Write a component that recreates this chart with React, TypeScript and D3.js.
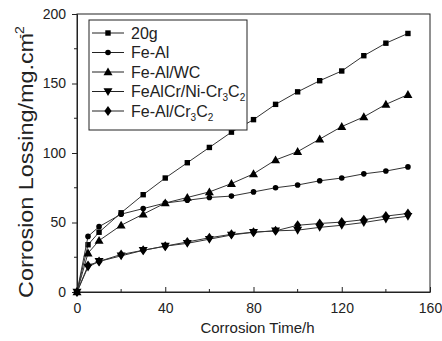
import React, { useEffect, useRef } from 'react';
import * as d3 from 'd3';

const times = [0, 5, 10, 20, 30, 40, 50, 60, 70, 80, 90, 100, 110, 120, 130, 140, 150];
const s20g = [0, 34, 43, 57, 70, 82, 93, 104, 115, 124, 135, 144, 152, 159, 170, 179, 186];
const sFeAl = [0, 40, 47, 56, 60, 64, 66, 68, 69, 72, 75, 77, 80, 82, 85, 87, 90];
const sFeAlWC = [0, 28, 37, 48, 56, 64, 68, 72, 78, 85, 95, 101, 110, 119, 126, 135, 142];
const sFeAlCr = [0, 18, 22, 26, 30, 33, 35, 38, 41, 43, 44, 44.5, 46.5, 48, 50, 52.5, 54.5];
const sCr3C2 = [0, 19, 22, 27, 30, 33, 36, 39, 41.5, 43, 44, 48, 49.3, 50.3, 52, 54.6, 56.5];

const seriesNames = ['20g', 'Fe-Al', 'Fe-Al/WC', 'FeAlCr/Ni-Cr3C2', 'Fe-Al/Cr3C2'];
const seriesValues = [s20g, sFeAl, sFeAlWC, sFeAlCr, sCr3C2];
const markers = ['square', 'circle', 'triangle', 'triangleDown', 'diamond'];

const xTicks = [0, 40, 80, 120, 160];
const yTicks = [0, 50, 100, 150, 200];

const FONT = 'Liberation Sans, Arial, sans-serif';

// draw one marker at (0,0) inside the given group
function drawMarker(g, type) {
    if (type === 'square') {
        g.append('rect').attr('x', -2.7).attr('y', -2.7).attr('width', 5.4).attr('height', 5.4).attr('fill', '#000');
    } else if (type === 'circle') {
        g.append('circle').attr('r', 2.8).attr('fill', '#000');
    } else if (type === 'triangle') {
        g.append('path').attr('d', 'M0,-4.5L4.5,3.3L-4.5,3.3Z').attr('fill', '#000');
    } else if (type === 'triangleDown') {
        g.append('path').attr('d', 'M0,4.5L4.5,-3.3L-4.5,-3.3Z').attr('fill', '#000');
    } else {
        g.append('path').attr('d', 'M0,-5L3.6,0L0,5L-3.6,0Z').attr('fill', '#000');
    }
}

const App = () => {
    const svgRef = useRef(null);

    useEffect(() => {
        const svg = d3.select(svgRef.current);
        svg.selectAll('*').remove();

        const left = 77, right = 430, top = 14, bottom = 292;

        const x = d3.scaleLinear().domain([0, 160]).range([left, right]);
        const y = d3.scaleLinear().domain([0, 200]).range([bottom, top]);

        // frame
        svg.append('rect')
            .attr('x', left).attr('y', top)
            .attr('width', right - left).attr('height', bottom - top)
            .attr('fill', 'none').attr('stroke', '#222').attr('stroke-width', 1);

        // left axis, ticks outward
        const yAxis = svg.append('g')
            .attr('transform', 'translate(' + left + ',0)')
            .call(d3.axisLeft(y).tickValues(yTicks).tickSize(5).tickPadding(6));
        yAxis.select('.domain').attr('stroke', '#222');
        yAxis.selectAll('line').attr('stroke', '#222');
        yAxis.selectAll('text').attr('font-family', FONT).attr('font-size', 14).attr('fill', '#222');
        yAxis.selectAll('.minor')
            .data([25, 75, 125, 175])
            .enter().append('line')
            .attr('x1', -3).attr('x2', 0)
            .attr('y1', function(d) { return y(d); })
            .attr('y2', function(d) { return y(d); })
            .attr('stroke', '#222');

        // bottom axis, ticks inward
        const xAxis = svg.append('g')
            .attr('transform', 'translate(0,' + bottom + ')')
            .call(d3.axisBottom(x).tickValues(xTicks).tickSizeInner(-5).tickSizeOuter(0).tickPadding(11));
        xAxis.select('.domain').attr('stroke', '#222');
        xAxis.selectAll('line').attr('stroke', '#222');
        xAxis.selectAll('text').attr('font-family', FONT).attr('font-size', 14).attr('fill', '#222');
        xAxis.selectAll('.minor')
            .data([20, 60, 100, 140])
            .enter().append('line')
            .attr('y1', -3).attr('y2', 0)
            .attr('x1', function(d) { return x(d); })
            .attr('x2', function(d) { return x(d); })
            .attr('stroke', '#222');

        // series
        const line = d3.line()
            .x(function(d) { return x(d[0]); })
            .y(function(d) { return y(d[1]); });

        seriesValues.forEach(function(vals, i) {
            const pts = times.map(function(t, j) { return [t, vals[j]]; });
            svg.append('path')
                .datum(pts)
                .attr('d', line)
                .attr('fill', 'none')
                .attr('stroke', '#333')
                .attr('stroke-width', 1);
            pts.forEach(function(p) {
                const mg = svg.append('g').attr('transform', 'translate(' + x(p[0]) + ',' + y(p[1]) + ')');
                drawMarker(mg, markers[i]);
            });
        });

        // legend
        const legend = svg.append('g');
        legend.append('rect')
            .attr('x', 89).attr('y', 20).attr('width', 158).attr('height', 110)
            .attr('fill', '#fff').attr('stroke', '#222').attr('stroke-width', 1);

        seriesNames.forEach(function(name, i) {
            const ly = 33 + i * 19.5;
            const row = legend.append('g').attr('transform', 'translate(0,' + ly + ')');
            row.append('line').attr('x1', 92).attr('x2', 124).attr('y1', 0).attr('y2', 0)
                .attr('stroke', '#222').attr('stroke-width', 1);
            const mg = row.append('g').attr('transform', 'translate(108,0)');
            drawMarker(mg, markers[i]);
            const txt = row.append('text')
                .attr('x', 131).attr('y', 5.5)
                .attr('font-family', FONT).attr('font-size', 16).attr('fill', '#222');
            // subscripts for Cr3C2
            const m = name.match(/^(.*Cr)3C2$/);
            if (m) {
                txt.append('tspan').text(m[1]);
                txt.append('tspan').attr('font-size', 10).attr('dy', 4).text('3');
                txt.append('tspan').attr('dy', -4).text('C');
                txt.append('tspan').attr('font-size', 10).attr('dy', 4).text('2');
            } else {
                txt.text(name);
            }
        });

        // axis titles
        svg.append('text')
            .attr('x', (left + right) / 2 + 4).attr('y', 333)
            .attr('text-anchor', 'middle')
            .attr('font-family', FONT).attr('font-size', 15).attr('fill', '#222')
            .text('Corrosion Time/h');

        const yt = svg.append('text')
            .attr('transform', 'translate(33,298) rotate(-90) scale(1.17,1)')
            .attr('font-family', FONT).attr('font-size', 20).attr('fill', '#222');
        yt.append('tspan').text('Corrosion Lossing/mg.cm');
        yt.append('tspan').attr('font-size', 12).attr('dx', -5).attr('dy', -9).text('-2');
    }, []);

    return (
        <svg ref={svgRef} width="442" height="341"
            style={{ position: 'absolute', left: 0, top: 0, background: '#fff' }}></svg>
    );
};

export default App;
